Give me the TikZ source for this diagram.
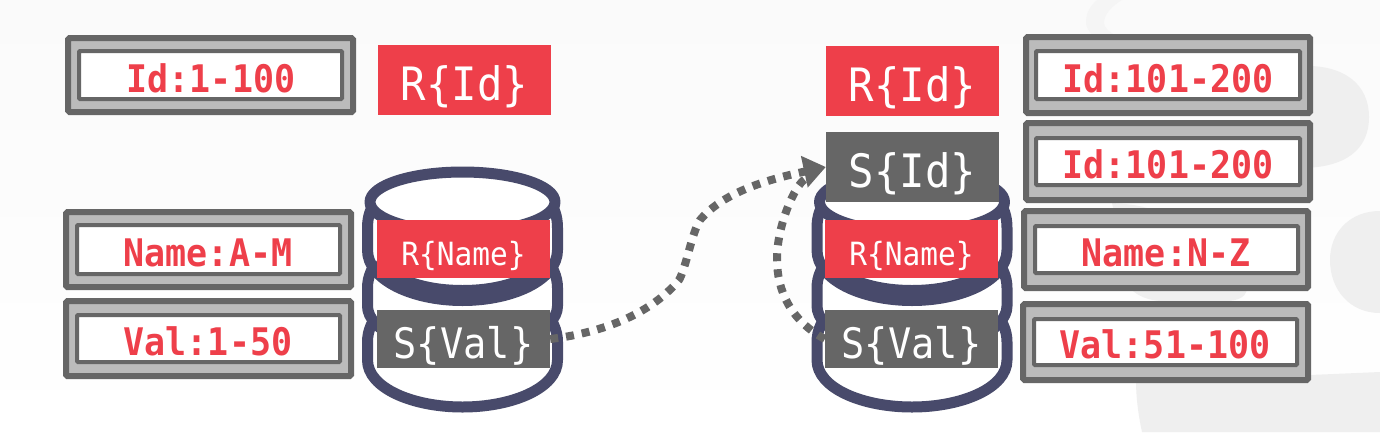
\documentclass[tikz,border=0pt]{standalone}
\usepackage{fontspec}
\usetikzlibrary{arrows.meta,calc}
\newfontfamily\mbold[FakeStretch=0.92]{DejaVu Sans Mono Bold}
\newfontfamily\mplain[FakeStretch=0.92]{DejaVu Sans Mono}
\definecolor{cred}{HTML}{EE3F4A}
\definecolor{cgray}{HTML}{666666}
\definecolor{cfill}{HTML}{BBBBBB}
\definecolor{cnavy}{HTML}{484A6B}
\definecolor{cbg}{HTML}{FAFAFA}
\definecolor{cblob}{HTML}{EFEFEF}
\definecolor{cband}{HTML}{F5F5F5}
\tikzset{
  x=1pt,y=-1pt,
  outerbox/.style={draw=cgray,fill=cfill,line width=6pt,rounded corners=1.5pt},
  innerbox/.style={draw=cgray,fill=white,line width=4pt,rounded corners=1pt},
  keylabel/.style={text=cred,font=\mbold\fontsize{38}{38}\selectfont,inner sep=0pt,anchor=base},
  colbox/.style={minimum width=173pt,inner sep=0pt,text=white},
  largetext/.style={minimum height=70pt,text height=40pt,text depth=0pt,font=\mplain\fontsize{46}{46}\selectfont},
  midtext/.style={minimum height=58pt,text height=38pt,text depth=0pt,font=\mplain\fontsize{42}{42}\selectfont},
  smalltext/.style={minimum height=58pt,text height=32pt,text depth=0pt,font=\mplain\fontsize{32}{32}\selectfont},
  redbox/.style={colbox,fill=cred},
  graybox/.style={colbox,fill=cgray},
  disk/.style={draw=cnavy,line width=11pt,fill=white,line join=round},
  flow/.style={draw=cgray,line width=8pt,dash pattern=on 8pt off 8pt},
}
\newcommand{\keybox}[8]{%
  \draw[outerbox] (#1+3,#3+3) rectangle (#2-3,#4-3);
  \draw[innerbox] (#5+2,#7+2) rectangle (#6-2,#8-2);
}
\newcommand{\stack}[1]{%
  \begin{scope}[shift={(#1,0)}]
    \draw[disk] (-82,312) .. controls (-90,320) and (-95,330) .. (-95,342) -- (-95,360) .. controls (-95,388) and (-50,407) .. (0,407) .. controls (50,407) and (95,388) .. (95,360) -- (95,342) .. controls (95,330) and (90,320) .. (82,312);
    \draw[disk] (-82,258) .. controls (-90,266) and (-95,276) .. (-95,288) -- (-95,306) .. controls (-95,330) and (-50,352) .. (0,352) .. controls (50,352) and (95,330) .. (95,306) -- (95,288) .. controls (95,276) and (90,266) .. (82,258);
    \draw[disk] (-85,198) .. controls (-92,208) and (-95,216) .. (-95,228) -- (-95,250) .. controls (-95,280) and (-50,300.5) .. (0,300.5) .. controls (50,300.5) and (95,280) .. (95,250) -- (95,228) .. controls (95,216) and (92,208) .. (85,198);
    \draw[cnavy,line width=11pt] (-88,264) .. controls (-60,284) and (-30,290.5) .. (0,290.5) .. controls (30,290.5) and (60,284) .. (88,264);
    \draw[disk] (0,202) ellipse [x radius=92.5,y radius=30];
  \end{scope}
}
\begin{document}
\begin{tikzpicture}
\useasboundingbox (0,0) rectangle (1380,432);
\shade[top color=cbg,bottom color=white] (0,0) rectangle (1380,432);
% background shapes
\begin{scope}
\clip (0,0) rectangle (1380,432);
\fill[cband] (1097,0) .. controls (1088,8) and (1086,15) .. (1086,23) .. controls (1086,27) and (1089,31) .. (1093,36) -- (1116,36) .. controls (1108,31) and (1104,27) .. (1104,23) .. controls (1104,14) and (1112,6) .. (1122,0) -- cycle;
\fill[cblob] (1300,66) .. controls (1345,64) and (1369,85) .. (1369,117) .. controls (1369,150) and (1345,168) .. (1300,168) -- cycle;
\fill[cblob] (1380,211) .. controls (1350,211) and (1330,232) .. (1330,260) .. controls (1330,290) and (1350,313) .. (1380,313) -- cycle;
\fill[cblob] (1112,203) .. controls (1130,204) and (1145,206) .. (1158,212) -- (1247,285) .. controls (1248,296) and (1240,301) .. (1225,301) -- (1160,301) .. controls (1148,300) and (1138,296) .. (1132,290) -- cycle;
\fill[cblob] (1136,380) .. controls (1136,400) and (1139,418) .. (1142,432) -- (1380,432) -- (1380,372) -- (1310,375) -- cycle;
\end{scope}
\stack{462.5}
\stack{912}
\keybox{65}{356}{35}{115}{77}{344}{49}{101}
\node[keylabel] (kA) at (211,92) {Id:1-100};
\keybox{63}{354}{209}{290}{75}{342}{223}{276}
\node[keylabel] (kB) at (208,266) {Name:A-M};
\keybox{63}{354}{298}{379}{75}{342}{313}{364}
\node[keylabel] (kC) at (208,355) {Val:1-50};
\keybox{1023}{1313}{34}{116}{1034}{1302}{49}{101}
\node[keylabel] (kD) at (1168,92) {Id:101-200};
\keybox{1023}{1313}{120}{203}{1034}{1302}{136}{187}
\node[keylabel] (kE) at (1168,178) {Id:101-200};
\keybox{1021}{1311}{208}{291}{1033}{1300}{224}{275}
\node[keylabel] (kF) at (1166,266) {Name:N-Z};
\keybox{1020}{1311}{301}{383}{1032}{1299}{317}{367}
\node[keylabel] (kG) at (1165,358) {Val:51-100};
\node[redbox,largetext] (rid1) at (464.5,80) {R\{Id\}};
\node[redbox,smalltext] (rn1) at (463.5,249) {R\{Name\}};
\node[graybox,midtext] (sv1) at (463.5,339) {S\{Val\}};
\node[redbox,largetext] (rid2) at (912.5,81) {R\{Id\}};
\node[graybox,largetext] (sid) at (912.5,167) {S\{Id\}};
\node[redbox,smalltext] (rn2) at (911.5,249) {R\{Name\}};
\node[graybox,midtext] (sv2) at (911.5,339) {S\{Val\}};
\draw[flow,shorten >=24pt] (sv2.west) .. controls (790,320) and (777,290) .. (777,259) .. controls (777,225) and (795,185) .. (sid.west);
\draw[flow,-{Triangle[length=22pt,width=31pt,fill=cgray]}] (sv1.east) .. controls (600,333) and (650,315) .. (679,280) .. controls (686,268) and (692,232) .. (700,220) .. controls (725,190) and (775,178) .. (sid.west);
\end{tikzpicture}
\end{document}
